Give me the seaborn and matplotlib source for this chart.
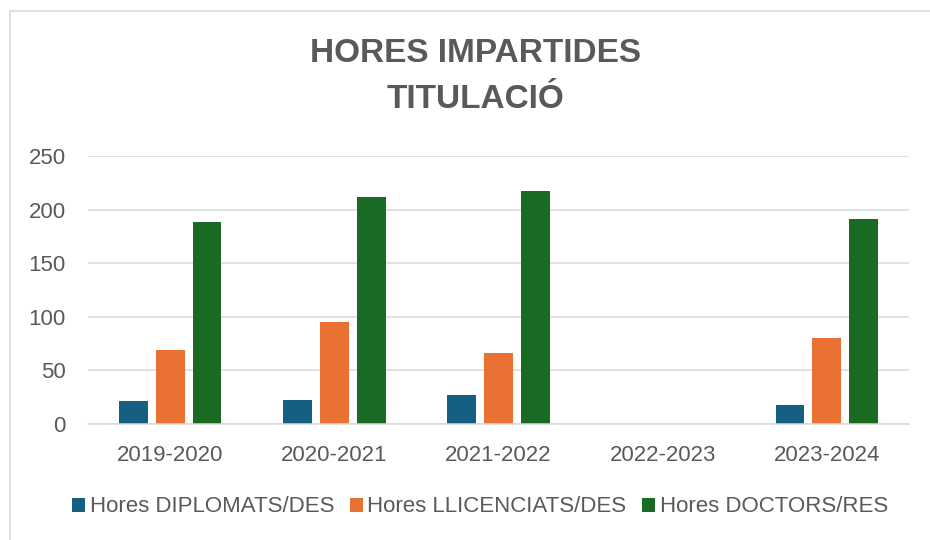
import matplotlib
matplotlib.use("Agg")
import matplotlib.pyplot as plt
from matplotlib.lines import Line2D
import seaborn as sns
import pandas as pd

courses = ["2019-2020", "2020-2021", "2021-2022", "2022-2023", "2023-2024"]
series = ["Hores DIPLOMATS/DES", "Hores LLICENCIATS/DES", "Hores DOCTORS/RES"]
diplomats = [21, 22, 27, 0, 18]
llicenciats = [69, 95, 66, 0, 80]
doctors = [188, 212, 217, 0, 191]
colors = ["#156082", "#E97132", "#196B24"]
title_lines = ["HORES IMPARTIDES", "TITULACIÓ"]

rows = []
for s, vals in zip(series, [diplomats, llicenciats, doctors]):
    for c, v in zip(courses, vals):
        rows.append({"Curs": c, "Serie": s, "Hores": v})
df = pd.DataFrame(rows)

sns.set_theme(style="white")
plt.rcParams["font.family"] = ["Liberation Sans", "DejaVu Sans"]
txt = "#595959"

fig = plt.figure(figsize=(9.3, 5.4), dpi=100)
ax = fig.add_axes([88 / 930, 1 - 424 / 540, (909 - 88) / 930, (424 - 156) / 540])

sns.barplot(data=df, x="Curs", y="Hores", hue="Serie", order=courses,
            hue_order=series, palette=colors, width=0.675, gap=0.22,
            linewidth=0, saturation=1, ax=ax, errorbar=None)

ax.set_ylim(0, 250)
ax.set_yticks([0, 50, 100, 150, 200, 250])
ax.set_xlim(-0.5, len(courses) - 0.5)
ax.yaxis.grid(True, color="#d9d9d9", linewidth=1.1)
ax.set_axisbelow(True)
for side in ["left", "right", "top"]:
    ax.spines[side].set_visible(False)
ax.spines["bottom"].set_color("#d9d9d9")
ax.spines["bottom"].set_linewidth(1.1)
ax.tick_params(axis="both", length=0, labelsize=16, labelcolor=txt)
ax.tick_params(axis="y", pad=16)
ax.tick_params(axis="x", pad=15)
ax.set_xlabel("")
ax.set_ylabel("")

handles, labels = ax.get_legend_handles_labels()
ax.legend_.remove() if ax.legend_ else None
fig.legend(handles, labels, loc="center", bbox_to_anchor=(480 / 930, 1 - 507 / 540),
           ncol=3, frameon=False, fontsize=16, labelcolor=txt,
           handlelength=0.6, handleheight=0.6, handletextpad=0.2,
           columnspacing=0.7, borderpad=0)

fig.text(475 / 930, 1 - 53 / 540, title_lines[0], ha="center", va="center",
         fontsize=24, fontweight="bold", color=txt)
fig.text(475 / 930, 1 - 100 / 540, title_lines[1], ha="center", va="center",
         fontsize=24, fontweight="bold", color=txt)

fig.add_artist(Line2D([10 / 930, 10 / 930], [0, 1 - 11 / 540], transform=fig.transFigure,
                      color="#d9d9d9", linewidth=1.2))
fig.add_artist(Line2D([10 / 930, 1], [1 - 11 / 540, 1 - 11 / 540], transform=fig.transFigure,
                      color="#d9d9d9", linewidth=1.2))

fig.savefig("out.png", dpi=100, facecolor="white")
